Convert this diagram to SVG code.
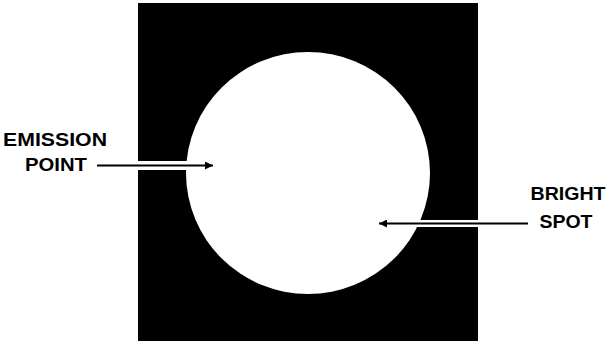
<svg xmlns="http://www.w3.org/2000/svg" width="614" height="341" viewBox="0 0 614 341">
<style>
.lbl{font-family:"Liberation Sans",Arial,sans-serif;font-weight:bold;font-size:19px;fill:#000;text-anchor:middle}
.arr{stroke:#000;stroke-width:2;fill:none}
</style>
<defs>
<marker id="ah" viewBox="0 0 10 10" refX="10" refY="5" markerWidth="18" markerHeight="8" markerUnits="userSpaceOnUse" orient="auto">
<path d="M0,0 L10,5 L0,10 z" fill="#000"/>
</marker>
</defs>
<rect width="614" height="341" fill="#fff"/>
<g id="panel">
<rect x="138" y="3" width="340" height="338" fill="#000"/>
<ellipse cx="308" cy="173" rx="122" ry="121" fill="#fff"/>
<rect x="137" y="161" width="52" height="9" fill="#fff"/>
<rect x="400" y="220" width="78" height="7" fill="#fff"/>
</g>
<g id="emission-point">
<text class="lbl" x="55" y="146" textLength="104" lengthAdjust="spacingAndGlyphs">EMISSION</text>
<text class="lbl" x="56" y="171" textLength="62" lengthAdjust="spacingAndGlyphs">POINT</text>
</g>
<g id="bright-spot">
<text class="lbl" x="568" y="200" textLength="75" lengthAdjust="spacingAndGlyphs">BRIGHT</text>
<text class="lbl" x="566" y="228" textLength="53" lengthAdjust="spacingAndGlyphs">SPOT</text>
</g>
<g id="connectors">
<line class="arr" x1="97" y1="165.5" x2="213" y2="165.5" marker-end="url(#ah)"/>
<line class="arr" x1="528" y1="223.5" x2="379" y2="223.5" marker-end="url(#ah)"/>
</g>
</svg>
